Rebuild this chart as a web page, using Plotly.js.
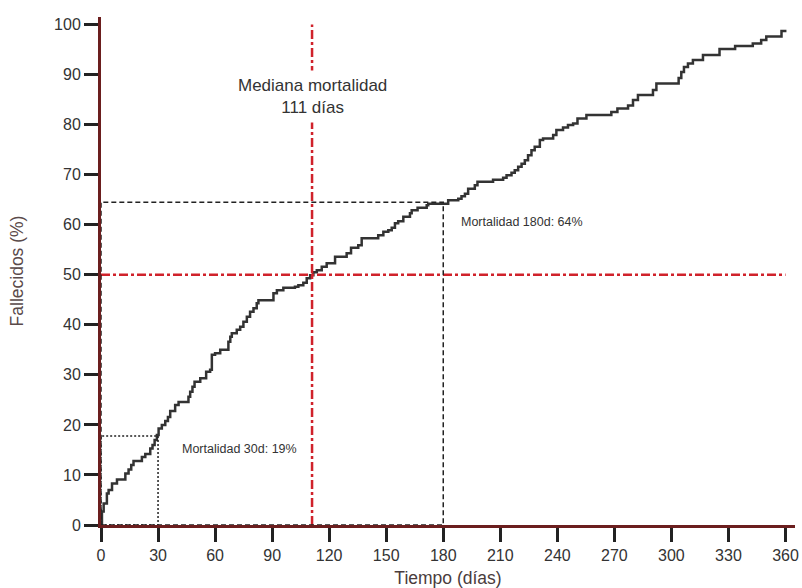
<!DOCTYPE html>
<html>
<head>
<meta charset="utf-8">
<script src="https://cdn.plot.ly/plotly-3.0.1.min.js"></script>
<style>
  html, body { margin: 0; padding: 0; background: #fff; }
  #chart { width: 802px; height: 588px; }
</style>
</head>
<body>
<div id="chart"></div>
<script>
// Cumulative mortality (step curve): day at which each step starts and % deceased from then on
const days = [
  0, 0.5, 1.4, 3.1, 4.0, 5.8, 8.4, 12.8, 14.5, 15.9, 17.1, 21.5, 23.3, 25.9, 27.1, 28.2, 29.4,
  30.3, 32.0, 33.8, 35.2, 36.4, 39.0, 40.8, 46.0, 46.9, 48.1, 49.2, 52.2, 55.3, 57.4, 58.3,
  60.0, 62.7, 67.0, 68.0, 68.8, 71.4, 73.2, 74.9, 76.7, 78.4, 80.2, 81.9, 82.8, 90.7, 92.5,
  95.9, 102.0, 103.8, 106.4, 108.2, 110.0, 111.7, 113.5, 116.1, 118.7, 123.1, 129.2, 131.5,
  135.3, 137.1, 145.8, 148.5, 151.1, 152.9, 154.6, 156.3, 159.0, 162.5, 163.4, 166.5, 171.3,
  172.1, 182.6, 187.9, 189.6, 191.4, 193.1, 196.6, 198.0, 206.2, 211.5, 213.3, 215.9, 217.6,
  219.4, 221.2, 222.9, 224.6, 226.4, 228.1, 230.8, 232.5, 237.8, 239.5, 243.0, 245.6, 248.3,
  250.6, 255.3, 268.4, 271.6, 277.2, 279.8, 282.4, 290.3, 292.1, 303.8, 305.2, 306.6, 308.7,
  311.3, 316.6, 325.3, 333.5, 342.8, 347.2, 349.9, 357.9, 360.5
];
const deceasedPct = [
  0, 2.7, 4.3, 6.3, 7.0, 8.3, 9.1, 10.3, 11.1, 12.0, 12.8, 13.6, 14.2, 15.3, 16.0, 17.0, 18.0,
  19.3, 20.0, 20.8, 21.6, 22.8, 24.0, 24.6, 25.6, 26.6, 27.6, 28.6, 29.3, 30.6, 31.0, 34.0,
  34.3, 35.0, 36.6, 37.6, 38.3, 39.0, 39.6, 40.6, 41.6, 42.6, 43.3, 44.3, 44.9, 46.3, 46.9,
  47.4, 47.6, 47.9, 48.4, 49.3, 49.9, 50.5, 50.9, 51.6, 52.3, 53.6, 54.3, 55.4,
  55.9, 57.3, 57.9, 58.6, 58.9, 59.4, 60.3, 60.7, 61.6, 62.3, 62.9, 63.4, 63.9,
  64.2, 64.9, 65.2, 65.7, 66.2, 67.2, 67.9, 68.6, 69.0, 69.4, 69.9, 70.4, 70.9,
  71.6, 72.2, 72.9, 73.9, 74.9, 75.6, 76.9, 77.2, 77.9, 78.9, 79.4, 79.9, 80.2,
  81.2, 81.9, 82.5, 83.2, 83.8, 84.9, 85.9, 86.9, 88.2, 89.3, 90.5, 91.5, 92.2,
  92.9, 93.9, 95.1, 95.7, 96.2, 96.9, 97.6, 98.7, 98.7
];

// Axis ticks
const xTicks = [0, 30, 60, 90, 120, 150, 180, 210, 240, 270, 300, 330, 360];
const yTicks = [0, 10, 20, 30, 40, 50, 60, 70, 80, 90, 100];

// Median mortality reference
const medianDay = 111;
const medianPct = 50;
const medianLabel = 'Mediana mortalidad<br>111 días';

// 30-day and 180-day mortality markers
const day30 = 30;
const pct30 = 17.8;
const label30 = 'Mortalidad 30d: 19%';
const day180 = 180;
const pct180 = 64.5;
const label180 = 'Mortalidad 180d: 64%';

const RED = '#d0222b';
const AXIS = '#6b1e1e';
const TEXT = '#333333';
const FONT = 'Liberation Sans, Arial, sans-serif';

const trace = {
  x: days,
  y: deceasedPct,
  type: 'scatter',
  mode: 'lines',
  line: { shape: 'hv', color: '#333333', width: 2.5 },
  hoverinfo: 'x+y',
  showlegend: false
};

const shapes = [
  // median: horizontal at 50 %, vertical at 111 days
  { type: 'line', xref: 'x', yref: 'y', x0: 0, x1: 360, y0: medianPct, y1: medianPct,
    line: { color: RED, width: 2.5, dash: '9px,3px,3px,3px' }, layer: 'above' },
  { type: 'line', xref: 'x', yref: 'y', x0: medianDay, x1: medianDay, y0: 0, y1: 100,
    line: { color: RED, width: 2.5, dash: '9px,3px,3px,3px' }, layer: 'above' },
  // 180-day box (dashed)
  { type: 'rect', xref: 'x', yref: 'y', x0: 0, x1: day180, y0: 0, y1: pct180,
    line: { color: '#222222', width: 1.5, dash: '5px,3px' }, fillcolor: 'rgba(0,0,0,0)', layer: 'above' },
  // 30-day box (dotted)
  { type: 'rect', xref: 'x', yref: 'y', x0: 0, x1: day30, y0: 0, y1: pct30,
    line: { color: '#222222', width: 1.5, dash: '2px,2px' }, fillcolor: 'rgba(0,0,0,0)', layer: 'above' }
];

const annotations = [
  { x: medianDay, y: 85.6, xref: 'x', yref: 'y', text: medianLabel, showarrow: false,
    xanchor: 'center', yanchor: 'middle', align: 'center',
    font: { family: FONT, size: 17, color: TEXT }, bgcolor: '#ffffff', borderpad: 5 },
  { x: 41.3, y: 15.1, xref: 'x', yref: 'y', text: label30, showarrow: false,
    xanchor: 'left', yanchor: 'middle',
    font: { family: FONT, size: 12.5, color: TEXT } },
  { x: 188.5, y: 60.6, xref: 'x', yref: 'y', text: label180, showarrow: false,
    xanchor: 'left', yanchor: 'middle',
    font: { family: FONT, size: 12.5, color: TEXT } }
];

const layout = {
  width: 802,
  height: 588,
  margin: { l: 101, r: 7, t: 17, b: 63 },
  paper_bgcolor: '#ffffff',
  plot_bgcolor: '#ffffff',
  font: { family: FONT, color: TEXT },
  xaxis: {
    range: [0, 365],
    tickvals: xTicks,
    ticktext: xTicks.map(String),
    ticks: 'outside', ticklen: 14, tickwidth: 3, tickcolor: '#222222',
    showline: true, linecolor: AXIS, linewidth: 3,
    showgrid: false, zeroline: false,
    tickfont: { family: FONT, size: 16, color: TEXT },
    title: { text: 'Tiempo (días)', font: { family: FONT, size: 17.5, color: '#4a3c3c' }, standoff: 12 }
  },
  yaxis: {
    range: [0, 101.5],
    tickvals: yTicks,
    ticktext: yTicks.map(String),
    ticks: 'outside', ticklen: 14, tickwidth: 3, tickcolor: '#222222',
    showline: true, linecolor: AXIS, linewidth: 3,
    showgrid: false, zeroline: false,
    tickfont: { family: FONT, size: 16, color: TEXT },
    title: { text: 'Fallecidos (%)', font: { family: FONT, size: 17.5, color: '#5a4a4a' }, standoff: 26 }
  },
  shapes: shapes,
  annotations: annotations,
  showlegend: false
};

Plotly.newPlot('chart', [trace], layout, { displayModeBar: false, staticPlot: true });
</script>
</body>
</html>
